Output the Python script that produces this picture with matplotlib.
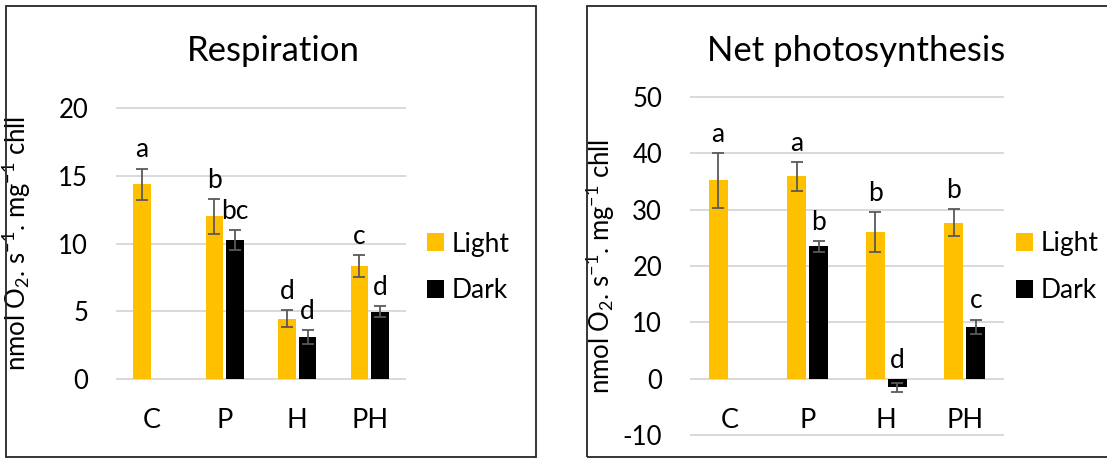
import matplotlib
matplotlib.use('Agg')
import matplotlib.pyplot as plt
from matplotlib.patches import Rectangle
import numpy as np

plt.rcParams['font.family'] = ['Lato', 'DejaVu Sans']
plt.rcParams['mathtext.fontset'] = 'custom'
plt.rcParams['mathtext.rm'] = 'Lato'
plt.rcParams['mathtext.default'] = 'regular'
plt.rcParams['axes.unicode_minus'] = False

cats = ['C', 'P', 'H', 'PH']

# Respiration
resp_light = [14.35, 12.0, 4.45, 8.35]
resp_light_err = [1.17, 1.3, 0.64, 0.8]
resp_dark = [np.nan, 10.25, 3.12, 4.98]
resp_dark_err = [np.nan, 0.72, 0.52, 0.42]
resp_light_lbl = ['a', 'b', 'd', 'c']
resp_dark_lbl = ['', 'bc', 'd', 'd']

# Net photosynthesis
ps_light = [35.2, 35.9, 26.0, 27.7]
ps_light_err = [4.85, 2.6, 3.6, 2.45]
ps_dark = [np.nan, 23.5, -1.5, 9.2]
ps_dark_err = [np.nan, 1.0, 0.8, 1.3]
ps_light_lbl = ['a', 'a', 'b', 'b']
ps_dark_lbl = ['', 'b', 'd', 'c']

YELLOW = '#FFC000'
DARK = '#000000'
ERR = '#595959'
GRID = '#D9D9D9'

W, H = 1107, 459
fig = plt.figure(figsize=(W / 100, H / 100), dpi=100)

def px_axes(x0, x1, ytop, ybot):
    return fig.add_axes([x0 / W, 1 - ybot / H, (x1 - x0) / W, (ybot - ytop) / H])

def draw(ax, light, light_err, dark, dark_err, llbl, dlbl, ylim, yticks):
    x = np.arange(len(cats))
    off, bw = 0.142, 0.24
    ekw = dict(ecolor=ERR, elinewidth=1.3, capsize=4.5, capthick=1.3)
    bl = ax.bar(x - off, light, bw, color=YELLOW, yerr=light_err, error_kw=ekw, label='Light', zorder=2)
    bd = ax.bar(x + off, dark, bw, color=DARK, yerr=dark_err, error_kw=ekw, label='Dark', zorder=2)
    pad = (ylim[1] - ylim[0]) * 0.003
    ax.set_ylim(ylim[0] - pad, ylim[1] + pad)
    ax.set_xlim(-0.5, len(cats) - 0.5)
    ax.set_yticks(yticks)
    ax.set_xticks([])
    ax.yaxis.grid(True, color=GRID, lw=1.4)
    ax.set_axisbelow(True)
    for s in ax.spines.values():
        s.set_visible(False)
    ax.tick_params(axis='y', length=0, pad=20, labelsize=18.5)
    for i in range(len(cats)):
        ax.annotate(cats[i], (x[i], 0), xytext=(0, -30), textcoords='offset points',
                    ha='center', va='center', fontsize=19.5)
        top = light[i] + light_err[i]
        ax.annotate(llbl[i], (x[i] - off, top), xytext=(0, 8), textcoords='offset points',
                    ha='center', va='baseline', fontsize=19)
        if dlbl[i]:
            top = max(dark[i] + dark_err[i], 0)
            ax.annotate(dlbl[i], (x[i] + off, top), xytext=(0, 8), textcoords='offset points',
                        ha='center', va='baseline', fontsize=19)
    return bl, bd

ylab = r'nmol O$_2$. s$^{-1}$. mg$^{-1}$ chll'
leg_kw = dict(loc='center left', frameon=False, fontsize=19, handlelength=0.65,
              handleheight=0.65, handletextpad=0.27, labelspacing=0.83,
              borderpad=0, borderaxespad=0)

# left panel
ax1 = px_axes(116, 406, 107, 380)
draw(ax1, resp_light, resp_light_err, resp_dark, resp_dark_err,
     resp_light_lbl, resp_dark_lbl, (0, 20), [0, 5, 10, 15, 20])
ax1.set_ylabel(ylab, fontsize=18.5)
ax1.yaxis.set_label_coords((33 - 116) / 290, 0.5)
ax1.legend(bbox_to_anchor=(1.072, 0.412), **leg_kw)
fig.text(273 / W, 1 - 51 / H, 'Respiration', ha='center', va='center', fontsize=25)

# right panel
ax2 = px_axes(690, 1004, 96, 436)
draw(ax2, ps_light, ps_light_err, ps_dark, ps_dark_err,
     ps_light_lbl, ps_dark_lbl, (-10, 50), [-10, 0, 10, 20, 30, 40, 50])
ax2.set_ylabel(ylab, fontsize=18.5)
ax2.yaxis.set_label_coords((617 - 690) / 314, 0.5)
ax2.legend(bbox_to_anchor=(1.038, 0.496), **leg_kw)
fig.text(856 / W, 1 - 51 / H, 'Net photosynthesis', ha='center', va='center', fontsize=25)

# panel frames
for x0, x1 in [(6, 536), (587, 1115)]:
    fig.patches.append(Rectangle((x0 / W, 1 - 457 / H), (x1 - x0) / W, 451 / H,
                                 transform=fig.transFigure, fill=False,
                                 edgecolor='#262626', lw=1.3))

fig.savefig('out.png', dpi=100)
